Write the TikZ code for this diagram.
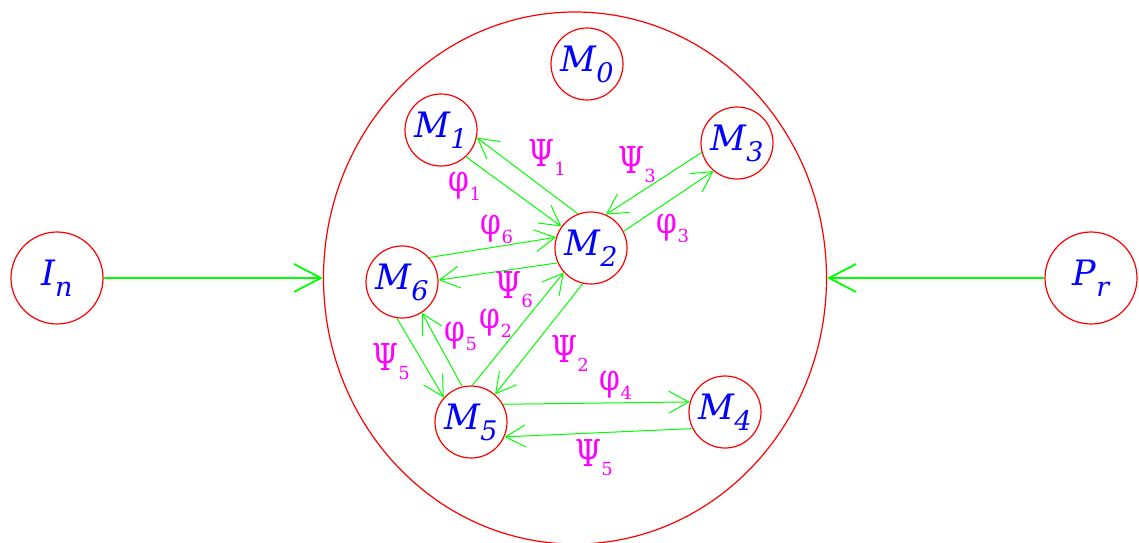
\documentclass[tikz,border=0pt]{standalone}
\usepackage{fontspec}
\setmainfont{DejaVu Serif}
\newfontfamily\labelfont{DejaVu Serif}
\usetikzlibrary{arrows.meta, shapes.geometric}
\definecolor{nodered}{RGB}{255,0,0}
\definecolor{linkgreen}{RGB}{0,255,0}
\definecolor{textblue}{RGB}{0,0,255}
\definecolor{flowpink}{RGB}{255,0,255}
% modul-name: italic letter with a big italic index
\newcommand{\modname}[2]{{\itshape #1\raisebox{-11pt}{\fontsize{27}{27}\selectfont #2}}}
% flow-name: greek letter with a small index
\newcommand{\flowname}[2]{\scalebox{0.8}[1]{#1}\raisebox{-9pt}{\fontsize{18}{18}\selectfont #2}}
\tikzset{
  modul/.style={
    circle,
    draw=nodered,
    line width=1.2pt,
    inner sep=0pt,
    minimum size=72pt,
    text=textblue,
    font=\labelfont\fontsize{35}{37}\selectfont
  },
  outer modul/.style={
    modul,
    minimum size=92pt
  },
  system/.style={
    ellipse,
    draw=nodered,
    line width=1.2pt,
    minimum width=503pt,
    minimum height=532pt
  },
  link/.style={
    -{Straight Barb[length=20pt, width=22pt]},
    line width=1pt,
    color=linkgreen
  },
  feed/.style={
    -{Straight Barb[length=27pt, width=28pt]},
    line width=1.8pt,
    color=linkgreen
  },
  flow/.style={
    text=flowpink,
    inner sep=0pt,
    font=\labelfont\fontsize{37}{39}\selectfont
  }
}
\begin{document}
\begin{tikzpicture}[x=1pt, y=-1pt]
    \useasboundingbox (0,0) rectangle (1139,542);
    % system boundary and outer moduls
    \node[system] (sys) at (575,278) {};
    \node[outer modul] (In) at (57,278) {\modname{I}{n}};
    \node[outer modul] (Pr) at (1091,278) {\modname{P}{r}};
    \draw[feed] (In) -- (sys.west);
    \draw[feed] (Pr) -- (sys.east);

    % inner moduls
    \node[modul] (M0) at (587,64) {\modname{M}{0}};
    \node[modul] (M1) at (441,130) {\modname{M}{1}};
    \node[modul] (M2) at (591,248) {\modname{M}{2}};
    \node[modul] (M3) at (737,143) {\modname{M}{3}};
    \node[modul] (M6) at (402,282) {\modname{M}{6}};
    \node[modul] (M5) at (471,422) {\modname{M}{5}};
    \node[modul] (M4) at (725,412) {\modname{M}{4}};

    % links between moduls
    \draw[link] (M2.111) -- (M1.-12);
    \draw[link] (M1.-47) -- (M2.144);
    \draw[link] (M3.195) -- (M2.66);
    \draw[link] (M2.27) -- (M3.230);
    \draw[link] (M6.42) -- (M2.163);
    \draw[link] (M2.204) -- (M6.3);
    \draw[link] (M5.88) -- (M2.222);
    \draw[link] (M2.257) -- (M5.49);
    \draw[link] (M6.262) -- (M5.138);
    \draw[link] (M5.104) -- (M6.303);
    \draw[link] (M5.29) -- (M4.164);
    \draw[link] (M4.207) -- (M5.-24);

    % flow labels
    \node[flow] (psi1) at (547,158) {\flowname{Ψ}{1}};
    \node[flow] (phi1) at (465,186) {\flowname{φ}{1}};
    \node[flow] (phi6) at (497,229) {\flowname{φ}{6}};
    \node[flow] (psi3) at (637,165) {\flowname{Ψ}{3}};
    \node[flow] (phi3) at (673,228) {\flowname{φ}{3}};
    \node[flow] (psi6) at (514,290) {\flowname{Ψ}{6}};
    \node[flow] (phi5) at (461,336) {\flowname{φ}{5}};
    \node[flow] (phi2) at (496,323) {\flowname{φ}{2}};
    \node[flow] (psi2) at (570,354) {\flowname{Ψ}{2}};
    \node[flow] (psi5a) at (391,362) {\flowname{Ψ}{5}};
    \node[flow] (phi4) at (616,385) {\flowname{φ}{4}};
    \node[flow] (psi5b) at (594,458) {\flowname{Ψ}{5}};
\end{tikzpicture}
\end{document}
